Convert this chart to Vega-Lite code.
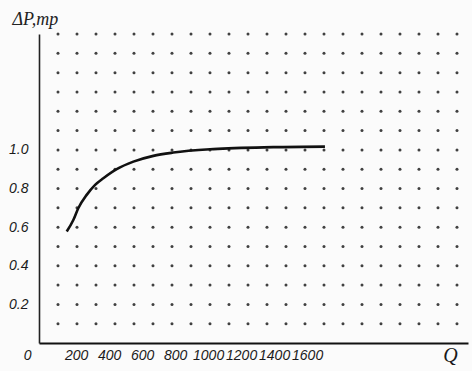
{
  "$schema": "https://vega.github.io/schema/vega-lite/v6.json",
  "width": 429,
  "height": 309,
  "autosize": {"type": "none"},
  "padding": {"left": 39, "top": 34, "right": 4, "bottom": 28},
  "background": "#fbfbfb",
  "config": {"view": {"stroke": null}},
  "datasets": {
    "curve": [
      {"q": 143, "dp": 0.577},
      {"q": 183, "dp": 0.637},
      {"q": 213, "dp": 0.698},
      {"q": 264, "dp": 0.767},
      {"q": 315, "dp": 0.819},
      {"q": 365, "dp": 0.853},
      {"q": 446, "dp": 0.9},
      {"q": 547, "dp": 0.939},
      {"q": 668, "dp": 0.969},
      {"q": 789, "dp": 0.986},
      {"q": 1032, "dp": 1.004},
      {"q": 1395, "dp": 1.014},
      {"q": 1708, "dp": 1.017}
    ],
    "grid": [
      {"gy": 0.1, "gx": [1,2,3,4,5,6,7,8,9,10,11,12,13,14,15,16,17,18,19,20,21,22]},
      {"gy": 0.2, "gx": [1,2,3,4,5,6,7,8,9,10,11,12,13,14,15,16,17,18,19,20,21,22]},
      {"gy": 0.3, "gx": [1,2,3,4,5,6,7,8,9,10,11,12,13,14,15,16,17,18,19,20,21,22]},
      {"gy": 0.4, "gx": [1,2,3,4,5,6,7,8,9,10,11,12,13,14,15,16,17,18,19,20,21,22]},
      {"gy": 0.5, "gx": [1,2,3,4,5,6,7,8,9,10,11,12,13,14,15,16,17,18,19,20,21,22]},
      {"gy": 0.6, "gx": [1,2,3,4,5,6,7,8,9,10,11,12,13,14,15,16,17,18,19,20,21,22]},
      {"gy": 0.7, "gx": [1,2,3,4,5,6,7,8,9,10,11,12,13,14,15,16,17,18,19,20,21,22]},
      {"gy": 0.8, "gx": [1,2,3,4,5,6,7,8,9,10,11,12,13,14,15,16,17,18,19,20,21,22]},
      {"gy": 0.9, "gx": [1,2,3,4,5,6,7,8,9,10,11,12,13,14,15,16,17,18,19,20,21,22]},
      {"gy": 1.0, "gx": [1,2,3,4,5,6,7,8,9,10,11,12,13,14,15,16,17,18,19,20,21,22]},
      {"gy": 1.1, "gx": [1,2,3,4,5,6,7,8,9,10,11,12,13,14,15,16,17,18,19,20,21,22]},
      {"gy": 1.2, "gx": [1,2,3,4,5,6,7,8,9,10,11,12,13,14,15,16,17,18,19,20,21,22]},
      {"gy": 1.3, "gx": [1,2,3,4,5,6,7,8,9,10,11,12,13,14,15,16,17,18,19,20,21,22]},
      {"gy": 1.4, "gx": [1,2,3,4,5,6,7,8,9,10,11,12,13,14,15,16,17,18,19,20,21,22]},
      {"gy": 1.5, "gx": [1,2,3,4,5,6,7,8,9,10,11,12,13,14,15,16,17,18,19,20,21,22]},
      {"gy": 1.6, "gx": [1,2,3,4,5,6,7,8,9,10,11,12,13,14,15,16,17,18,19,20,21,22]}
    ]
  },
  "layer": [
    {
      "data": {"name": "grid"},
      "transform": [{"flatten": ["gx"]}],
      "mark": {"type": "circle", "size": 9, "color": "#2b2b2b", "opacity": 0.9},
      "encoding": {
        "x": {"field": "gx", "type": "quantitative", "scale": {"domain": [0, 22.58], "nice": false, "zero": false}, "axis": null},
        "y": {"field": "gy", "type": "quantitative", "scale": {"domain": [0, 1.6], "nice": false}, "axis": null}
      }
    },
    {
      "data": {"name": "curve"},
      "mark": {"type": "line", "color": "#111111", "strokeWidth": 2.6, "interpolate": "monotone"},
      "encoding": {
        "x": {
          "field": "q", "type": "quantitative",
          "scale": {"domain": [-25, 2575], "nice": false, "zero": false},
          "axis": {
            "values": [0, 200, 400, 600, 800, 1000, 1200, 1400, 1600],
            "format": "d",
            "grid": false, "ticks": false,
            "labelOverlap": false,
            "domainColor": "#111111", "domainWidth": 2,
            "labelFont": "Liberation Sans",
            "labelFontStyle": "italic", "labelFontSize": 14, "labelColor": "#1a1a1a",
            "labelPadding": 5,
            "labelOffset": {"condition": {"test": "datum.value === 0", "value": -16}, "value": 0},
            "title": "Q",
            "titleFont": "Liberation Serif", "titleFontStyle": "italic", "titleFontWeight": "normal",
            "titleFontSize": 20, "titleColor": "#1a1a1a",
            "titleX": 411, "titleY": 2, "titleAlign": "center", "titleBaseline": "top", "titleAngle": 0
          }
        },
        "y": {
          "field": "dp", "type": "quantitative",
          "scale": {"domain": [0, 1.6], "nice": false},
          "axis": {
            "values": [0.2, 0.4, 0.6, 0.8, 1.0],
            "format": ".1f",
            "grid": false, "ticks": false,
            "domainColor": "#222222", "domainWidth": 1.6,
            "labelFont": "Liberation Sans",
            "labelFontStyle": "italic", "labelFontSize": 14, "labelColor": "#1a1a1a",
            "labelPadding": 11,
            "title": "ΔP,тр",
            "titleFont": "Liberation Serif", "titleFontStyle": "italic", "titleFontWeight": "normal",
            "titleFontSize": 18, "titleColor": "#222222",
            "titleAngle": 0, "titleX": -27, "titleY": -10, "titleAlign": "left", "titleBaseline": "alphabetic"
          }
        }
      }
    }
  ],
  "resolve": {"scale": {"x": "independent", "y": "independent"}}
}
